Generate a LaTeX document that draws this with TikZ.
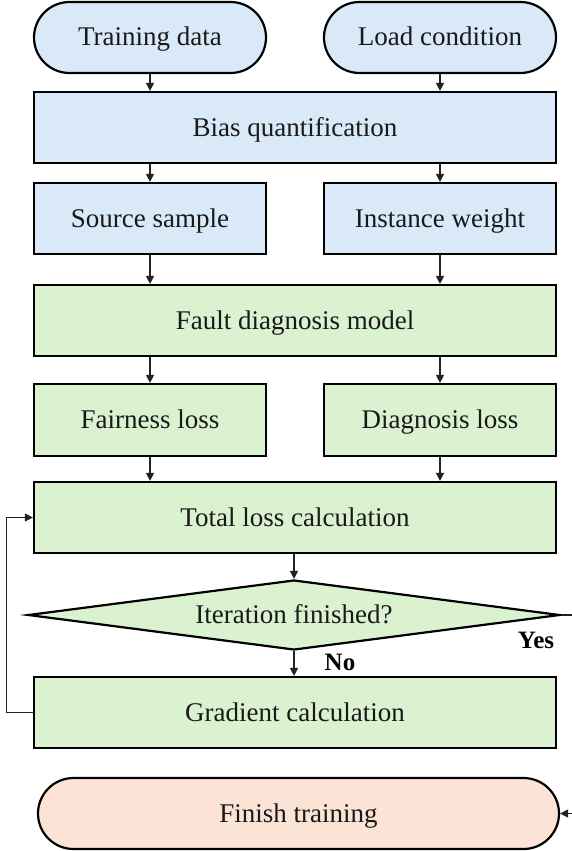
\documentclass[tikz,border=0pt]{standalone}
\usepackage{fontspec}
\setmainfont{Liberation Serif}
\newfontfamily\tnr{Liberation Serif}
\usetikzlibrary{shapes.misc,shapes.geometric,arrows.meta}
\definecolor{bluefill}{HTML}{DAE9F8}
\definecolor{greenfill}{HTML}{DAF2D0}
\definecolor{peachfill}{HTML}{FBE3D6}
\definecolor{linecol}{HTML}{222222}
\tikzset{
  base/.style={draw=black, line width=2.2pt, inner sep=0pt, font=\tnr\fontsize{27}{32}\selectfont, text=black!90, text height=18pt, text depth=1pt},
  term/.style={base, rounded rectangle, minimum width=232pt, minimum height=71pt},
  boxs/.style={base, rectangle, minimum width=232pt, minimum height=71pt},
  boxw/.style={base, rectangle, minimum width=522pt, minimum height=71pt},
  decis/.style={base, diamond, shape aspect=7.6, minimum width=532pt, minimum height=70pt, fill=greenfill},
  arr/.style={draw=linecol, line width=1.3pt, -{Triangle[length=8pt,width=8pt]}},
  lbl/.style={font=\tnr\fontsize{25}{30}\selectfont\bfseries, inner sep=0pt},
}
\begin{document}
\begin{tikzpicture}[x=1pt,y=-1pt]
\useasboundingbox (0,0) rectangle (572,851);
\node[term, fill=bluefill] (td) at (150,37.5) {Training data};
\node[term, fill=bluefill] (lc) at (440,37.5) {Load condition};
\node[boxw, fill=bluefill] (bias) at (295,127.5) {Bias quantification};
\node[boxs, fill=bluefill] (src) at (150,218.5) {Source sample};
\node[boxs, fill=bluefill] (inst) at (440,218.5) {Instance weight};
\node[boxw, fill=greenfill] (fault) at (295,320.5) {Fault diagnosis model};
\node[boxs, fill=greenfill, minimum height=72pt] (fair) at (150,420) {Fairness loss};
\node[boxs, fill=greenfill, minimum height=72pt] (diag) at (440,420) {Diagnosis loss};
\node[boxw, fill=greenfill] (total) at (295,517.5) {Total loss calculation};
\node[decis] (dia) at (294,615) {Iteration finished?};
\node[boxw, fill=greenfill] (grad) at (295,712.5) {Gradient calculation};
\node[term, fill=peachfill, minimum width=521pt] (fin) at (298.5,813.5) {Finish training};
\node[lbl] (yes) at (536,640) {Yes};
\node[lbl] (no) at (340,662) {No};
\coordinate (yesturn) at (575,615);

\draw[arr] (td.south) -- (td.south |- bias.north);
\draw[arr] (lc.south) -- (lc.south |- bias.north);
\draw[arr] (src.north |- bias.south) -- (src.north);
\draw[arr] (inst.north |- bias.south) -- (inst.north);
\draw[arr] (src.south) -- (src.south |- fault.north);
\draw[arr] (inst.south) -- (inst.south |- fault.north);
\draw[arr] (fair.north |- fault.south) -- (fair.north);
\draw[arr] (diag.north |- fault.south) -- (diag.north);
\draw[arr] (fair.south) -- (fair.south |- total.north);
\draw[arr] (diag.south) -- (diag.south |- total.north);
\draw[arr] (dia.north |- total.south) -- (dia.north);
\draw[arr] (dia.south) -- (dia.south |- grad.north);
\draw[arr, line width=1pt] (grad.west) -- ++(-26,0) |- (total.west);
\draw[arr] (dia.east) -- (yesturn) |- (fin.east);
\end{tikzpicture}
\end{document}
